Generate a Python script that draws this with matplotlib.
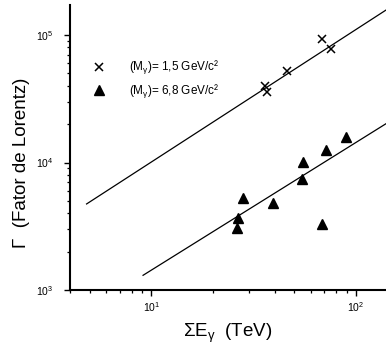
import numpy as np
import matplotlib
matplotlib.use("Agg")
import matplotlib.pyplot as plt
from matplotlib.ticker import NullFormatter

plt.rcParams['font.family'] = ['Liberation Sans', 'DejaVu Sans']
plt.rcParams['mathtext.fontset'] = 'custom'
plt.rcParams['mathtext.rm'] = 'Liberation Sans'
plt.rcParams['mathtext.it'] = 'Liberation Sans'
plt.rcParams['mathtext.default'] = 'regular'

# energia total (TeV) e fator de Lorentz
e_15 = [36.0, 36.6, 45.9, 68.0, 75.3]
g_15 = [39800, 35900, 52500, 92500, 77700]

e_68 = [27.9, 26.6, 26.3, 39.1, 55.0, 54.5, 71.4, 89.0, 68.5]
g_68 = [5240, 3650, 3080, 4840, 10140, 7430, 12530, 15800, 3280]

# retas ajustadas (extremos)
fit_15_e = [4.82, 140.0]
fit_15_g = [4730, 157000]
fit_68_e = [9.1, 141.0]
fit_68_g = [1304, 20300]

fig = plt.figure(figsize=(3.86, 3.53), dpi=100)
ax = fig.add_axes([70/386, 63/353, 316/386, 285/353])

ax.plot(fit_15_e, fit_15_g, color='black', lw=0.9)
ax.plot(fit_68_e, fit_68_g, color='black', lw=0.9)
ax.plot(e_15, g_15, 'x', color='black', ms=6, mew=1.1,
        label='(M$_γ$)= 1,5 GeV/c²')
ax.plot(e_68, g_68, '^', color='black', ms=6.5,
        label='(M$_γ$)= 6,8 GeV/c²')

ax.set_xscale('log')
ax.set_yscale('log')
ax.set_xlim(4.0, 140)
ax.set_ylim(1000, 1.72e5)

for s in ['top', 'right']:
    ax.spines[s].set_visible(False)
for s in ['left', 'bottom']:
    ax.spines[s].set_linewidth(1.5)

ax.tick_params(which='major', length=4, width=1.0, labelsize=7.5, pad=3)
ax.tick_params(which='minor', length=2.2, width=0.9)
ax.tick_params(axis='y', which='major', pad=8)
ax.xaxis.set_minor_formatter(NullFormatter())
ax.yaxis.set_minor_formatter(NullFormatter())

ax.set_xlabel('ΣE$_γ$  (TeV)', fontsize=13.5)
ax.set_ylabel('Γ  (Fator de Lorentz)', fontsize=13.5)
ax.yaxis.set_label_coords(-0.128, 0.446)
ax.xaxis.set_label_coords(0.5, -0.11)

ax.legend(loc='upper left', bbox_to_anchor=(0.055, 0.826), frameon=False,
          fontsize=8.5, handlelength=1.2, handletextpad=1.9, labelspacing=0.45,
          borderaxespad=0)

fig.savefig('out.png', dpi=100)
